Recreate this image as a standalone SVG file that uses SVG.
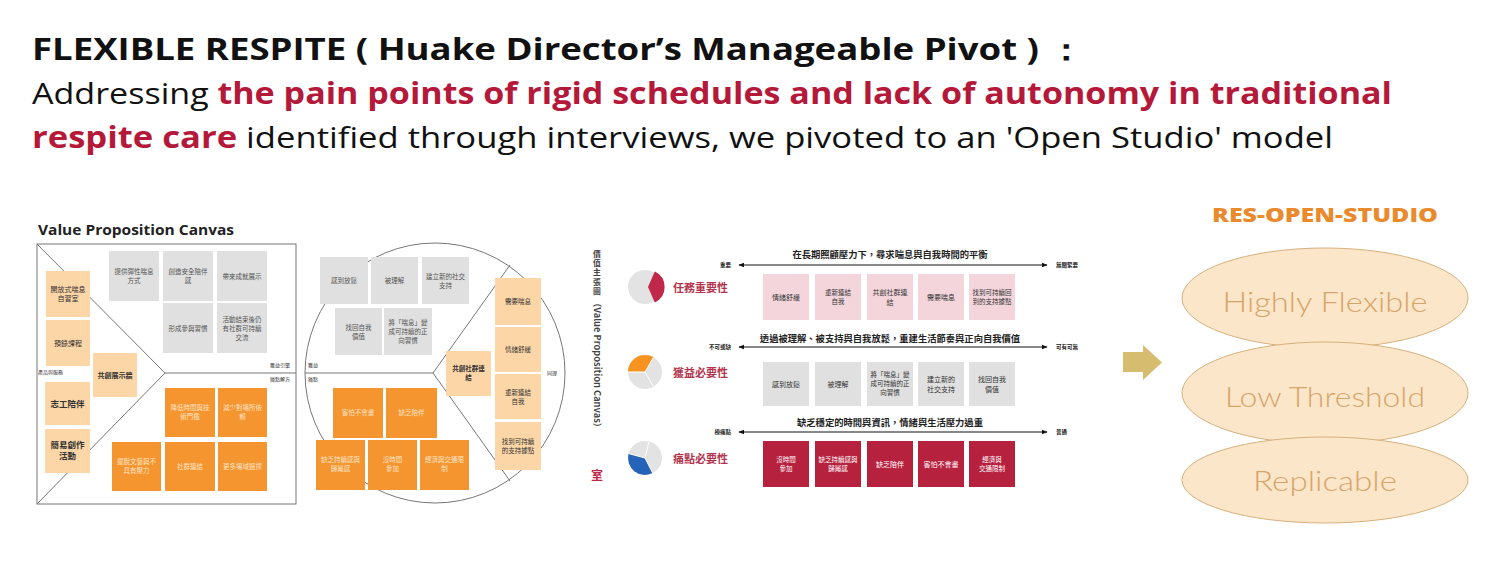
<svg xmlns="http://www.w3.org/2000/svg" width="1500" height="561" viewBox="0 0 1500 561">
<defs>
<style>
.hd{font-family:"Open Sans","Liberation Sans",sans-serif;font-size:30px;fill:#111}
.b{font-weight:700}
.red{fill:#b5193a;font-weight:700}
.cj{font-family:"Noto Sans CJK TC","Noto Sans CJK SC",sans-serif;text-anchor:middle}
.s6{font-size:6.5px}
.s7{font-size:7px}
.s8{font-size:8.5px;font-weight:700}
.tg{fill:#555}
.td{fill:#333}
.tw{fill:#fde4c8}
.tww{fill:#fff}
.gy{fill:#e0e0e0}
.lo{fill:#fcd6a6}
.or{fill:#f5952f}
.pk{fill:#f4d5dc}
.cr{fill:#b6213e}
.ln{stroke:#777;stroke-width:1;fill:none}
.tiny{font-family:"Noto Sans CJK TC",sans-serif;font-size:5px;fill:#333}
.rt{font-family:"Noto Sans CJK TC",sans-serif;font-size:9.3px;font-weight:700;fill:#222;text-anchor:middle}
.rl{font-family:"Noto Sans CJK TC",sans-serif;font-size:5.5px;font-weight:700;fill:#222}
.pl{font-family:"Noto Sans CJK TC",sans-serif;font-size:11px;font-weight:700;fill:#b3344e}
.vt{font-family:"Noto Sans CJK TC",sans-serif;font-size:7.8px;font-weight:700;fill:#444;text-anchor:middle}
.el{fill:#fce6c9;stroke:#d7b07c;stroke-width:1}
.et{font-family:"Lato","Open Sans",sans-serif;font-weight:300;font-size:28px;fill:#d5a56a;text-anchor:middle}
</style>
<marker id="ah" viewBox="0 0 10 10" refX="9" refY="5" markerWidth="5" markerHeight="5" orient="auto-start-reverse">
<path d="M0,1 L10,5 L0,9 z" fill="#111"/>
</marker>
</defs>
<rect width="1500" height="561" fill="#fff"/>

<g id="header">
<text class="hd b" x="32" y="60" font-size="31" textLength="1053" lengthAdjust="spacingAndGlyphs">FLEXIBLE RESPITE ( Huake Director’s Manageable Pivot ) ：</text>
<text class="hd" x="32" y="104" font-size="30.5" textLength="1360" lengthAdjust="spacingAndGlyphs">Addressing <tspan class="red">the pain points of rigid schedules and lack of autonomy in traditional</tspan></text>
<text class="hd" x="32" y="148" font-size="30.5" textLength="1301" lengthAdjust="spacingAndGlyphs"><tspan class="red">respite care</tspan> identified through interviews, we pivoted to an 'Open Studio' model</text>
</g>

<g id="canvas-left">
<text x="38" y="235" font-family="Open Sans, Liberation Sans, sans-serif" font-weight="700" font-size="13.5" fill="#222" textLength="196" lengthAdjust="spacingAndGlyphs">Value Proposition Canvas</text>
<rect x="37" y="244" width="259" height="260" class="ln"/>
<path class="ln" d="M37,244 L165,373 L37,504 M165,373 L296,373"/>
<text class="tiny" x="38" y="374">產品與服務</text>
<text class="tiny" x="290" y="367" text-anchor="end">獲益引擎</text>
<text class="tiny" x="290" y="381" text-anchor="end">痛點解方</text>
<g id="lc-gc1"><rect class="gy" x="109" y="251" width="50" height="50"/><text class="cj s6 tg"><tspan x="134" y="274">提供彈性喘息</tspan><tspan x="134" y="283">方式</tspan></text></g>
<g id="lc-gc2"><rect class="gy" x="163" y="251" width="50" height="50"/><text class="cj s6 tg"><tspan x="188" y="274">創造安全陪伴</tspan><tspan x="188" y="283">感</tspan></text></g>
<g id="lc-gc3"><rect class="gy" x="217" y="251" width="50" height="50"/><text class="cj s6 tg" x="242" y="279">帶來成就展示</text></g>
<g id="lc-gc4"><rect class="gy" x="163" y="303" width="50" height="50"/><text class="cj s6 tg" x="188" y="331">形成參與習慣</text></g>
<g id="lc-gc5"><rect class="gy" x="217" y="303" width="50" height="50"/><text class="cj s6 tg"><tspan x="242" y="322">活動結束後仍</tspan><tspan x="242" y="331">有社群可持續</tspan><tspan x="242" y="340">交流</tspan></text></g>
<g id="lc-p1"><rect class="lo" x="46" y="271" width="44" height="46"/><text class="cj s7 td"><tspan x="68" y="292">開放式喘息</tspan><tspan x="68" y="301">自習室</tspan></text></g>
<g id="lc-p2"><rect class="lo" x="46" y="320" width="44" height="46"/><text class="cj s7 td" x="68" y="346">預錄課程</text></g>
<g id="lc-p3"><rect class="lo" x="93" y="353" width="44" height="44"/><text class="cj s7 td b" x="115" y="378">共創展示牆</text></g>
<g id="lc-p4"><rect class="lo" x="45" y="382" width="45" height="43"/><text class="cj s8 td" x="67.5" y="407">志工陪伴</text></g>
<g id="lc-p5"><rect class="lo" x="45" y="429" width="45" height="44"/><text class="cj s8 td"><tspan x="67.5" y="448">簡易創作</tspan><tspan x="67.5" y="459">活動</tspan></text></g>
<g id="lc-pr1"><rect class="or" x="165" y="388" width="50" height="49"/><text class="cj s6 tw"><tspan x="190" y="410">降低時間與技</tspan><tspan x="190" y="419">術門檻</tspan></text></g>
<g id="lc-pr2"><rect class="or" x="218" y="388" width="49" height="49"/><text class="cj s6 tw"><tspan x="242.5" y="410">減少對場所依</tspan><tspan x="242.5" y="419">賴</tspan></text></g>
<g id="lc-pr3"><rect class="or" x="112" y="442" width="49" height="49"/><text class="cj s6 tw"><tspan x="136.5" y="464">擺脫文藝與不</tspan><tspan x="136.5" y="473">具有壓力</tspan></text></g>
<g id="lc-pr4"><rect class="or" x="165" y="442" width="50" height="49"/><text class="cj s6 tw" x="190" y="469">社群連結</text></g>
<g id="lc-pr5"><rect class="or" x="218" y="442" width="49" height="49"/><text class="cj s6 tw" x="242.5" y="469">更多場域選擇</text></g>
</g>

<g id="canvas-circle">
<circle cx="435" cy="373" r="130" class="ln"/>
<path class="ln" d="M305,373 L433,373 L510,265 M433,373 L510,481"/>
<text class="tiny" x="308" y="367">獲益</text>
<text class="tiny" x="308" y="381">痛點</text>
<text class="tiny" x="547" y="375">同理</text>
<g id="cc-g1"><rect class="gy" x="320" y="257" width="48" height="47"/><text class="cj s6 tg" x="344" y="283">感到放鬆</text></g>
<g id="cc-g2"><rect class="gy" x="371" y="257" width="47" height="47"/><text class="cj s6 tg" x="394.5" y="283">被理解</text></g>
<g id="cc-g3"><rect class="gy" x="422" y="257" width="47" height="47"/><text class="cj s6 tg"><tspan x="445.5" y="279">建立新的社交</tspan><tspan x="445.5" y="288">支持</tspan></text></g>
<g id="cc-g4"><rect class="gy" x="335" y="308" width="47" height="47"/><text class="cj s6 tg"><tspan x="358.5" y="330">找回自我</tspan><tspan x="358.5" y="339">價值</tspan></text></g>
<g id="cc-g5"><rect class="gy" x="384" y="308" width="48" height="47"/><text class="cj s6 tg"><tspan x="408" y="325">將「喘息」變</tspan><tspan x="408" y="334">成可持續的正</tspan><tspan x="408" y="343">向習慣</tspan></text></g>
<g id="cc-j1"><rect class="lo" x="495" y="278" width="46" height="47"/><text class="cj s6 td" x="518" y="304">需要喘息</text></g>
<g id="cc-j2"><rect class="lo" x="495" y="327" width="46" height="45"/><text class="cj s6 td" x="518" y="352">情緒舒緩</text></g>
<g id="cc-j3"><rect class="lo" x="495" y="374" width="46" height="45"/><text class="cj s6 td"><tspan x="518" y="395">重新連結</tspan><tspan x="518" y="404">自我</tspan></text></g>
<g id="cc-j4"><rect class="lo" x="495" y="422" width="46" height="48"/><text class="cj s6 td"><tspan x="518" y="444">找到可持續</tspan><tspan x="518" y="453">的支持據點</tspan></text></g>
<g id="cc-j5"><rect class="lo" x="446" y="351" width="45" height="45"/><text class="cj s6 td b"><tspan x="468.5" y="371">共創社群連</tspan><tspan x="468.5" y="380">結</tspan></text></g>
<g id="cc-p1"><rect class="or" x="333" y="388" width="50" height="50"/><text class="cj s6 tw" x="358" y="415">害怕不會畫</text></g>
<g id="cc-p2"><rect class="or" x="386" y="388" width="51" height="50"/><text class="cj s6 tw" x="411.5" y="415">缺乏陪伴</text></g>
<g id="cc-p3"><rect class="or" x="316" y="440" width="49" height="50"/><text class="cj s6 tw"><tspan x="340.5" y="462">缺乏持續感與</tspan><tspan x="340.5" y="471">歸屬感</tspan></text></g>
<g id="cc-p4"><rect class="or" x="368" y="440" width="49" height="50"/><text class="cj s6 tw"><tspan x="392.5" y="462">沒時間</tspan><tspan x="392.5" y="471">參加</tspan></text></g>
<g id="cc-p5"><rect class="or" x="420" y="440" width="49" height="50"/><text class="cj s6 tw"><tspan x="444.5" y="462">經濟與交通限</tspan><tspan x="444.5" y="471">制</tspan></text></g>
</g>

<g id="chart">
<text class="vt"><tspan x="597" y="257">價</tspan><tspan x="597" y="266.2">值</tspan><tspan x="597" y="275.4">主</tspan><tspan x="597" y="284.6">張</tspan><tspan x="597" y="293.8">圖</tspan></text>
<text transform="translate(594,298) rotate(90)" font-family="Noto Sans CJK TC, sans-serif" font-size="9" font-weight="700" fill="#444" x="0" y="0" textLength="134" lengthAdjust="spacingAndGlyphs">（Value Proposition Canvas）</text>
<text x="597" y="480" font-family="Noto Sans CJK TC, sans-serif" font-size="12" font-weight="700" fill="#c0284a" text-anchor="middle">室</text>

<g id="pie1">
<circle cx="645" cy="287" r="17" fill="#e3e3e3"/>
<path d="M648,287 L654.8,271.6 A17,17 0 0 1 654.8,302.4 Z" fill="#c0284a"/>
</g>
<g id="pie2">
<circle cx="645" cy="372" r="17" fill="#e3e3e3"/>
<path d="M645,372 L628,372 A17,17 0 0 1 653.5,357.3 Z" fill="#f7931e"/>
<path d="M645,372 L653.5,357.3 M645,372 L653.5,386.7 M645,372 L628,372" stroke="#fff" stroke-width="1"/>
</g>
<g id="pie3">
<circle cx="645" cy="458" r="17" fill="#e3e3e3"/>
<path d="M645,458 L652.7,473.1 A17,17 0 0 1 628.6,453.6 Z" fill="#2563b8"/>
<path d="M645,458 L649,441.5 M645,458 L652.7,473.1 M645,458 L628.6,453.6" stroke="#fff" stroke-width="1"/>
</g>
<text class="pl" x="673" y="292">任務重要性</text>
<text class="pl" x="673" y="377">獲益必要性</text>
<text class="pl" x="673" y="463">痛點必要性</text>

<g id="connectors" stroke="#111" stroke-width="1.2">
<line x1="739" y1="265" x2="1047" y2="265" marker-start="url(#ah)" marker-end="url(#ah)"/>
<line x1="739" y1="347" x2="1047" y2="347" marker-start="url(#ah)" marker-end="url(#ah)"/>
<line x1="739" y1="432" x2="1047" y2="432" marker-start="url(#ah)" marker-end="url(#ah)"/>
</g>
<text class="rt" x="890" y="258">在長期照顧壓力下，尋求喘息與自我時間的平衡</text>
<text class="rt" x="890" y="342">透過被理解、被支持與自我放鬆，重建生活節奏與正向自我價值</text>
<text class="rt" x="890" y="426">缺乏穩定的時間與資訊，情緒與生活壓力過重</text>
<text class="rl" x="731" y="267" text-anchor="end">重要</text>
<text class="rl" x="1056" y="267">無關緊要</text>
<text class="rl" x="731" y="349" text-anchor="end">不可或缺</text>
<text class="rl" x="1056" y="349">可有可無</text>
<text class="rl" x="731" y="434" text-anchor="end">極痛點</text>
<text class="rl" x="1056" y="434">普通</text>

<g id="row1">
<g id="r1-1"><rect class="pk" x="763" y="274" width="46" height="46"/><text class="cj s7 td" x="786" y="300">情緒舒緩</text></g>
<g id="r1-2"><rect class="pk" x="815" y="274" width="46" height="46"/><text class="cj s6 td"><tspan x="838" y="295">重新連結</tspan><tspan x="838" y="304">自我</tspan></text></g>
<g id="r1-3"><rect class="pk" x="867" y="274" width="46" height="46"/><text class="cj s7 td"><tspan x="890" y="295">共創社群連</tspan><tspan x="890" y="305">結</tspan></text></g>
<g id="r1-4"><rect class="pk" x="918" y="274" width="46" height="46"/><text class="cj s7 td" x="941" y="300">需要喘息</text></g>
<g id="r1-5"><rect class="pk" x="969" y="274" width="46" height="46"/><text class="cj s6 td"><tspan x="992" y="295">找到可持續回</tspan><tspan x="992" y="304">到的支持據點</tspan></text></g>
</g>
<g id="row2">
<g id="r2-1"><rect class="gy" x="763" y="362" width="46" height="44"/><text class="cj s7 td" x="786" y="387">感到放鬆</text></g>
<g id="r2-2"><rect class="gy" x="815" y="362" width="46" height="44"/><text class="cj s7 td" x="838" y="387">被理解</text></g>
<g id="r2-3"><rect class="gy" x="867" y="362" width="46" height="44"/><text class="cj s6 td"><tspan x="890" y="377">將「喘息」變</tspan><tspan x="890" y="386">成可持續的正</tspan><tspan x="890" y="395">向習慣</tspan></text></g>
<g id="r2-4"><rect class="gy" x="918" y="362" width="46" height="44"/><text class="cj s7 td"><tspan x="941" y="382">建立新的</tspan><tspan x="941" y="392">社交支持</tspan></text></g>
<g id="r2-5"><rect class="gy" x="969" y="362" width="46" height="44"/><text class="cj s7 td"><tspan x="992" y="382">找回自我</tspan><tspan x="992" y="392">價值</tspan></text></g>
</g>
<g id="row3">
<g id="r3-1"><rect class="cr" x="763" y="441" width="46" height="46"/><text class="cj s6 tww"><tspan x="786" y="462">沒時間</tspan><tspan x="786" y="471">參加</tspan></text></g>
<g id="r3-2"><rect class="cr" x="815" y="441" width="46" height="46"/><text class="cj s6 tww"><tspan x="838" y="462">缺乏持續感與</tspan><tspan x="838" y="471">歸屬感</tspan></text></g>
<g id="r3-3"><rect class="cr" x="867" y="441" width="46" height="46"/><text class="cj s7 tww" x="890" y="467">缺乏陪伴</text></g>
<g id="r3-4"><rect class="cr" x="918" y="441" width="46" height="46"/><text class="cj s7 tww" x="941" y="467">害怕不會畫</text></g>
<g id="r3-5"><rect class="cr" x="969" y="441" width="46" height="46"/><text class="cj s6 tww"><tspan x="992" y="462">經濟與</tspan><tspan x="992" y="471">交通限制</tspan></text></g>
</g>
</g>

<g id="big-arrow">
<path d="M1123,352 L1143,352 L1143,345 L1162,362.5 L1143,380 L1143,372 L1123,372 Z" fill="#d6bc6e"/>
</g>

<g id="res-open-studio">
<text x="1325" y="222" font-family="Open Sans, Liberation Sans, sans-serif" font-weight="800" font-size="20" fill="#e98a2c" text-anchor="middle" textLength="226" lengthAdjust="spacingAndGlyphs">RES-OPEN-STUDIO</text>
<g id="e1"><ellipse class="el" cx="1325" cy="298" rx="143" ry="50"/><text class="et" x="1325" y="312" textLength="205" lengthAdjust="spacingAndGlyphs">Highly Flexible</text></g>
<g id="e2"><ellipse class="el" cx="1325" cy="393" rx="143" ry="51"/><text class="et" x="1325" y="407" textLength="200" lengthAdjust="spacingAndGlyphs">Low Threshold</text></g>
<g id="e3"><ellipse class="el" cx="1325" cy="480" rx="143" ry="43"/><text class="et" x="1325" y="491" textLength="144" lengthAdjust="spacingAndGlyphs">Replicable</text></g>
</g>
</svg>
